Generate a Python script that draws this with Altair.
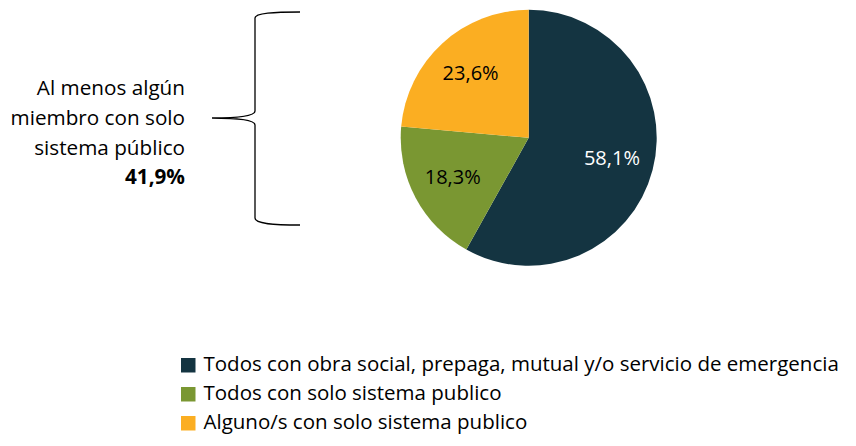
import altair as alt
import pandas as pd

categories = [
    "Todos con obra social, prepaga, mutual y/o servicio de emergencia",
    "Todos con solo sistema publico",
    "Alguno/s con solo sistema publico",
]
values = [58.1, 18.3, 23.6]
labels = ["58,1%", "18,3%", "23,6%"]
colors = ["#143441", "#7a9732", "#fbae22"]
label_colors = ["#ffffff", "#000000", "#000000"]
side_lines = ["Al menos algún", "miembro con solo", "sistema público"]
side_total = "41,9%"

FONT = "Open Sans"
df = pd.DataFrame({
    "cat": categories,
    "v": values,
    "lab": labels,
    "lc": label_colors,
    "ord": list(range(len(categories))),
})

CX, CY, R = 520.7, 129.8, 128

base = alt.Chart(df)

pie = base.mark_arc(outerRadius=R, stroke=None).encode(
    theta=alt.Theta("v:Q", stack=True),
    order=alt.Order("ord:Q"),
    color=alt.Color(
        "cat:N",
        scale=alt.Scale(domain=categories, range=colors),
        legend=alt.Legend(
            title=None,
            orient="none",
            legendX=170,
            legendY=347,
            symbolType="square",
            symbolSize=210,
            symbolStrokeWidth=0,
            labelFont=FONT,
            labelFontSize=20.5,
            labelColor="#000000",
            labelLimit=800,
            labelOffset=5,
            rowPadding=8,
            padding=0,
        ),
    ),
    x=alt.value(CX),
    y=alt.value(CY),
)

pie_labels = base.mark_text(radius=86, font=FONT, fontSize=20, align="center", baseline="middle").encode(
    theta=alt.Theta("v:Q", stack=True),
    order=alt.Order("ord:Q"),
    text="lab:N",
    color=alt.Color("lc:N", scale=None),
    x=alt.value(CX),
    y=alt.value(CY),
)

one = alt.Chart(pd.DataFrame({"k": [0]}))

side = one.mark_text(
    text=side_lines, font=FONT, fontSize=20.7, align="right", baseline="alphabetic", lineHeight=30, color="#000000"
).encode(x=alt.value(177), y=alt.value(87))

side_bold = one.mark_text(
    text=side_total, font=FONT, fontSize=20.7, fontWeight="bold", align="right", baseline="alphabetic", color="#000000"
).encode(x=alt.value(177), y=alt.value(176))

# curly brace drawn as a custom symbol path (unit = 100 px)
brace_path = (
    "M 0.88 -1.06 C 0.62 -1.06 0.43 -1.05 0.43 -1.0 "
    "L 0.43 -0.07 C 0.43 -0.02 0.25 0 0 0 "
    "C 0.25 0 0.43 0.02 0.43 0.07 "
    "L 0.43 1.0 C 0.43 1.06 0.62 1.07 0.88 1.07"
)
brace = one.mark_point(
    shape=brace_path, filled=False, size=40000, stroke="#000000", strokeWidth=1.3, opacity=1
).encode(x=alt.value(204), y=alt.value(110))

chart = (
    alt.layer(pie, pie_labels, side, side_bold, brace)
    .properties(
        width=840,
        height=430,
        padding=0,
        background="#ffffff",
        autosize=alt.AutoSizeParams(type="none"),
    )
    .configure_view(stroke=None)
)

chart.save("out.html", embed_options={"renderer": "svg", "actions": False})
